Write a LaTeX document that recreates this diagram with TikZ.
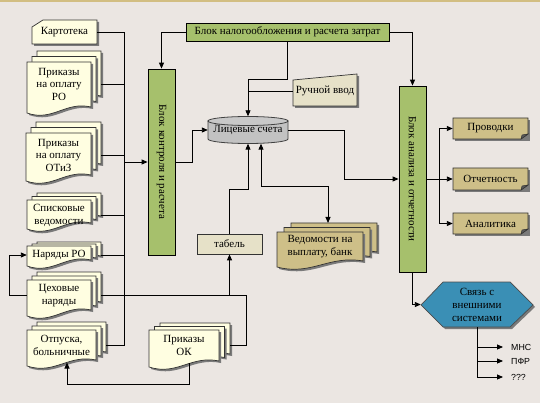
\documentclass[tikz,border=0pt]{standalone}
\usepackage{fontspec}
\usepackage{graphicx}
\setmainfont{Liberation Serif}
\newfontfamily\lsans{Liberation Sans}
\usetikzlibrary{arrows.meta,calc}
\definecolor{bgc}{HTML}{EBE6E2}
\definecolor{topc}{HTML}{D2BE82}
\definecolor{docc}{HTML}{FFFEE1}
\definecolor{grnc}{HTML}{A6C06C}
\definecolor{beic}{HTML}{E6E1C8}
\definecolor{tanc}{HTML}{CEBF88}
\definecolor{cylc}{HTML}{C2C2C2}
\definecolor{hexc}{HTML}{3A8FB5}
\definecolor{shdc}{HTML}{7A7A7A}
\tikzset{
  ln/.style={draw=black,line width=0.9pt},
  arr/.style={ln,-{Triangle[length=6pt,width=5pt]}},
  arrboth/.style={ln,{Triangle[length=6pt,width=5pt]}-{Triangle[length=6pt,width=5pt]}},
  shdw/.style={fill=shdc},
  outl/.style={draw=black!80,line width=0.7pt},
  txt/.style={inner sep=0pt,align=center,font=\fontsize{11}{12.5}\selectfont},
  blockbox/.style={draw=black,line width=0.8pt,fill=grnc,inner sep=0pt},
  extlabel/.style={anchor=west,inner xsep=8pt,inner ysep=0pt,font=\lsans\fontsize{8.8}{10}\selectfont},
}
\newcommand\OneDoc[5]{%
  \pgfmathsetmacro\zzxa{#1}\pgfmathsetmacro\zzya{#2}%
  \pgfmathsetmacro\zzxb{#3}\pgfmathsetmacro\zzyb{#4}%
  \pgfmathsetmacro\zzca{\zzxa+0.6*(\zzxb-\zzxa)}%
  \pgfmathsetmacro\zzcb{\zzxa+0.4*(\zzxb-\zzxa)}%
  \fill[shdw,shift={(2,2)}] (\zzxa,\zzya) -- (\zzxb,\zzya) -- (\zzxb,\zzyb-6)
     .. controls (\zzca,\zzyb-12) and (\zzcb,\zzyb+9) .. (\zzxa,\zzyb) -- cycle;
  \filldraw[fill=#5,outl] (\zzxa,\zzya) -- (\zzxb,\zzya) -- (\zzxb,\zzyb-6)
     .. controls (\zzca,\zzyb-12) and (\zzcb,\zzyb+9) .. (\zzxa,\zzyb) -- cycle;}
\newcommand\MultiDoc[7]{%
  \OneDoc{#1+2*#5}{#2-2*#6}{#3+2*#5}{#4-2*#6}{#7}%
  \OneDoc{#1+#5}{#2-#6}{#3+#5}{#4-#6}{#7}%
  \OneDoc{#1}{#2}{#3}{#4}{#7}}
\newcommand\OutCard[4]{% x1 y1 x2 y2
  \fill[shdw,shift={(2,2)}] (#1,#2) rectangle (#3,#4);
  \filldraw[fill=tanc,outl] (#1,#2) -- (#3,#2) -- (#3,#4-5) -- (#3-7,#4) -- (#1,#4) -- cycle;
  \filldraw[fill=black!65,draw=black!80,line width=0.5pt] (#3,#4-5) -- (#3-7,#4) -- (#3-6,#4-4) -- cycle;}
\begin{document}
\begin{tikzpicture}[x=1pt,y=-1pt]
\fill[bgc] (0,0) rectangle (540,403);
\useasboundingbox (0,0) rectangle (540,403);
\fill[topc] (0,0) rectangle (540,1.6);

% ---------- left documents ----------
\fill[shdw,shift={(2,2)}] (43,20) -- (97,20) -- (97,44) -- (32,44) -- (32,27) -- cycle;
\filldraw[fill=docc,outl] (43,20) -- (97,20) -- (97,44) -- (32,44) -- (32,27) -- cycle;
\node[txt,minimum width=65] (kart) at (64.5,32) {Картотека};

\MultiDoc{27}{62}{91}{113}{5}{5.5}{docc}
\node[txt,minimum width=64] (prRO) at (59,84) {Приказы\\на оплату\\РО};

\MultiDoc{26}{133}{91}{181}{5}{5.5}{docc}
\node[txt,minimum width=65] (prOT) at (58.5,155) {Приказы\\на оплату\\ОТиЗ};

\MultiDoc{27}{200}{91}{229}{5}{3.5}{docc}
\node[txt,minimum width=64] (spv) at (59,215.5) {Списковые\\ведомости};

\MultiDoc{27}{246}{91}{266}{5}{2}{docc}
\node[txt,minimum width=64] (nr) at (59,255) {Наряды РО};

\MultiDoc{27}{280}{91}{316}{5}{4}{docc}
\node[txt,minimum width=64] (cn) at (59,295.5) {Цеховые\\наряды};

\MultiDoc{27}{330}{96}{366}{5}{4}{docc}
\node[txt,minimum width=69] (otp) at (61.5,345.5) {Отпуска,\\больничные};

\MultiDoc{149}{330}{219}{367}{5.5}{3.5}{docc}
\node[txt,minimum width=70] (ok) at (184,345.5) {Приказы\\ОК};

% ---------- middle ----------
\node[blockbox,minimum width=203,minimum height=18,txt,draw=black,fill=grnc] (bn) at (287.5,32) {Блок налогообложения и расчета затрат};
\node[blockbox,minimum width=27,minimum height=186] (bk) at (161.5,162)
  {\fontsize{11}{12}\selectfont\rotatebox{-90}{Блок контроля и расчета}};
\node[blockbox,minimum width=27,minimum height=186] (ba) at (412.5,179)
  {\fontsize{11}{12}\selectfont\rotatebox{-90}{Блок анализа и отчетности}};

% manual input
\fill[shdw,shift={(2,2)}] (293,80) -- (357,74) -- (357,106) -- (293,106) -- cycle;
\filldraw[fill=beic,outl] (293,80) -- (357,74) -- (357,106) -- (293,106) -- cycle;
\node[txt,minimum width=64] (rv) at (325,91) {Ручной ввод};

% cylinder
\filldraw[fill=cylc,draw=black!75,line width=0.8pt] (208,121) -- (208,139)
  .. controls (208,141.5) and (226,143.5) .. (248,143.5)
  .. controls (270,143.5) and (288,141.5) .. (288,139) -- (288,121) -- cycle;
\filldraw[fill=cylc!90!white,draw=black!75,line width=0.8pt] (248,121) ellipse [x radius=40,y radius=4.5];
\node[txt,minimum width=80,minimum height=27] (ls) at (248,130) {\raisebox{-2pt}{Лицевые счета}};

% tabel
\node[txt,draw=black!80,line width=0.7pt,fill=beic,minimum width=65,minimum height=20] (tb) at (229.5,244) {табель};

% vedomosti
\MultiDoc{277}{232}{363}{267}{7}{4.5}{tanc}
\node[txt,minimum width=86] (vd) at (320,246.5) {Ведомости на\\выплату, банк};

% ---------- right ----------
\OutCard{453}{118}{528}{139}
\node[txt,minimum width=75,minimum height=21] (pr) at (490.5,128.5) {Проводки};
\OutCard{453}{168}{528}{190}
\node[txt,minimum width=75,minimum height=22] (ot) at (490.5,179) {Отчетность};
\OutCard{453}{213}{528}{234}
\node[txt,minimum width=75,minimum height=21] (an) at (490.5,223.5) {Аналитика};

\fill[shdw,shift={(2,2)}] (421,305) -- (443,282) -- (510,282) -- (533,305) -- (510,327) -- (443,327) -- cycle;
\filldraw[fill=hexc,draw=black!70,line width=0.7pt] (421,305) -- (443,282) -- (510,282) -- (533,305) -- (510,327) -- (443,327) -- cycle;
\node[txt,font=\fontsize{11}{13}\selectfont,minimum width=112,minimum height=45] (hx) at (477,304.5) {Связь с\\внешними\\системами};

\node[extlabel] (mns) at (503,347) {МНС};
\node[extlabel] (pfr) at (503,361) {ПФР};
\node[extlabel] (qq) at (503,377) {???};

% ---------- coordinates ----------
\coordinate (busB) at (124,345.5);
\coordinate (j1) at (248,79);
\coordinate (j3) at (248,189);
\coordinate (j4) at (328,186);
\coordinate (vdt) at (328,223);
\coordinate (j5) at (246,295.5);
\coordinate (j7) at (439,179);
\coordinate (okb) at (189,363);
\coordinate (otb) at (67,362.5);

% ---------- connectors ----------
\draw[ln] (kart.east) -| (busB);
\draw[ln] ([xshift=10]prRO.east) -- (prRO.east -| busB);
\draw[ln] ([xshift=10]prOT.east) -- (prOT.east -| busB);
\draw[ln] ([xshift=10]spv.east) -- (spv.east -| busB);
\draw[ln] ([xshift=10]nr.east) -- (nr.east -| busB);
\draw[ln] ([xshift=10]otp.east) -- (busB);
\draw[arr] (bk.west -| busB) -- (bk.west);

\draw[arr] (bn.west) -| (bk.north);
\draw[arr] (bn.east) -| (ba.north);
\draw[arr] (bn.south) |- (j1) -- (ls.north);
\draw[ln] (rv.west) -- (rv.west -| j1);

\draw[arr] (bk.east) -- ++(17,0) |- (ls.west);
\draw[arr] (ls.east) -- ++(56,0) |- (ba.west);
\draw[arr] (tb.north) |- (j3) -- (ls.south);
\draw[arrboth] ([xshift=13]ls.south) |- (j4) -- (vdt);

\draw[ln] ([xshift=10]cn.east) -- (j5) |- ([xshift=11]ok.east);
\draw[arr] (tb.south |- j5) -- (tb.south);
\draw[arr] (cn.west) -- ++(-17,0) |- (nr.west);
\draw[arr] (okb) -- ++(0,21) -| (otb);

\draw[arr] (ba.east) -- (ot.west);
\draw[arr] (j7) |- (pr.west);
\draw[arr] (j7) |- (an.west);
\draw[arr] (ba.south) |- (hx.west);
\draw[arr] (hx.south) |- (qq.west);
\draw[arr] (hx.south |- mns.west) -- (mns.west);
\draw[arr] (hx.south |- pfr.west) -- (pfr.west);
\end{tikzpicture}
\end{document}
